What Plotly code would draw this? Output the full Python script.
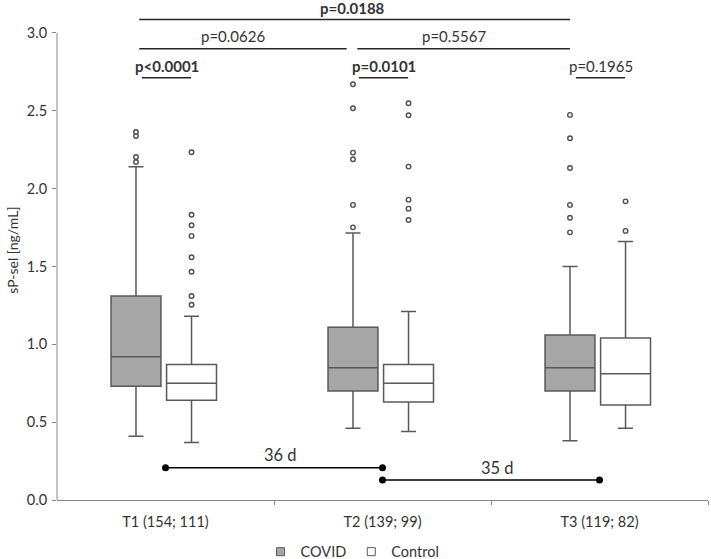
import plotly.graph_objects as go

# ---------------- data ----------------
categories = ["T1 (154; 111)", "T2 (139; 99)", "T3 (119; 82)"]

covid_q1 = [0.73, 0.70, 0.70]
covid_median = [0.92, 0.85, 0.85]
covid_q3 = [1.31, 1.11, 1.06]
covid_lower = [0.41, 0.46, 0.38]
covid_upper = [2.14, 1.715, 1.50]
covid_outliers = [
    [2.363, 2.338, 2.203, 2.171],
    [2.670, 2.516, 2.231, 2.188, 1.895, 1.751],
    [2.473, 2.323, 2.132, 1.895, 1.813, 1.719],
]

control_q1 = [0.64, 0.63, 0.61]
control_median = [0.75, 0.75, 0.81]
control_q3 = [0.87, 0.87, 1.04]
control_lower = [0.37, 0.44, 0.46]
control_upper = [1.18, 1.21, 1.66]
control_outliers = [
    [2.233, 1.832, 1.764, 1.696, 1.559, 1.466, 1.310, 1.254],
    [2.548, 2.471, 2.141, 1.929, 1.871, 1.798],
    [1.918, 1.728],
]

# within-timepoint p values (COVID vs control)
pair_p = ["<b>p<0.0001</b>", "<b>p=0.0101</b>", "p=0.1965"]
# between-timepoint p values (COVID)
p_t1_t2 = "p=0.0626"
p_t2_t3 = "p=0.5567"
p_t1_t3 = "<b>p=0.0188</b>"

# time between sampling points
interval_labels = ["36 d", "35 d"]

y_ticks = [0.0, 0.5, 1.0, 1.5, 2.0, 2.5, 3.0]

# ---------------- style ----------------
FONT = "Lato"
BOX_LINE = "#595959"
COVID_FILL = "#a6a6a6"
AXIS_COL = "#868686"
TXT = "#333333"
COVID_OFF = -0.136
CTRL_OFF = 0.12
BOX_W = 0.23
Y_MAX = 3.211
Y_AXIS_TOP = 3.0

xs = list(range(len(categories)))
covid_x = [i + COVID_OFF for i in xs]
ctrl_x = [i + CTRL_OFF for i in xs]

fig = go.Figure()

fig.add_trace(go.Box(
    x=covid_x, q1=covid_q1, median=covid_median, q3=covid_q3,
    lowerfence=covid_lower, upperfence=covid_upper,
    width=BOX_W, whiskerwidth=0.3, boxpoints=False,
    fillcolor=COVID_FILL, line=dict(color=BOX_LINE, width=1.5),
    showlegend=False, hoverinfo="skip",
))
fig.add_trace(go.Box(
    x=ctrl_x, q1=control_q1, median=control_median, q3=control_q3,
    lowerfence=control_lower, upperfence=control_upper,
    width=BOX_W, whiskerwidth=0.3, boxpoints=False,
    fillcolor="white", line=dict(color=BOX_LINE, width=1.5),
    showlegend=False, hoverinfo="skip",
))

# outliers
for cx, outs in zip(covid_x, covid_outliers):
    fig.add_trace(go.Scatter(
        x=[cx] * len(outs), y=outs, mode="markers",
        marker=dict(symbol="circle", size=4.5, color="white",
                    line=dict(color="#4d4d4d", width=1.4)),
        showlegend=False, hoverinfo="skip"))
for cx, outs in zip(ctrl_x, control_outliers):
    fig.add_trace(go.Scatter(
        x=[cx] * len(outs), y=outs, mode="markers",
        marker=dict(symbol="circle", size=4.5, color="white",
                    line=dict(color="#4d4d4d", width=1.4)),
        showlegend=False, hoverinfo="skip"))

# time interval bars
interval_y = [0.207, 0.128]
interval_text_y = [0.289, 0.204]
for k in range(2):
    fig.add_trace(go.Scatter(
        x=[xs[k], xs[k + 1]], y=[interval_y[k]] * 2, mode="lines+markers",
        line=dict(color="black", width=1.5),
        marker=dict(color="black", size=7),
        showlegend=False, hoverinfo="skip"))
    fig.add_annotation(x=(xs[k] + xs[k + 1]) / 2 + 0.03, y=interval_text_y[k],
                       text=interval_labels[k], showarrow=False,
                       font=dict(family=FONT, size=16.5, color=TXT))

# legend entries
fig.add_trace(go.Scatter(
    x=[None], y=[None], mode="markers", name="COVID",
    marker=dict(symbol="square", size=8, color=COVID_FILL,
                line=dict(color=BOX_LINE, width=1))))
fig.add_trace(go.Scatter(
    x=[None], y=[None], mode="markers", name="Control",
    marker=dict(symbol="square", size=8, color="white",
                line=dict(color=BOX_LINE, width=1))))

shapes = []
line_style = dict(color="#262626", width=1.5)
# pairwise brackets
for i in xs:
    shapes.append(dict(type="line", xref="x", yref="y",
                       x0=covid_x[i] + 0.027, x1=ctrl_x[i] - 0.002,
                       y0=2.712, y1=2.712, line=line_style))
    fig.add_annotation(x=i + 0.005, y=2.79, text=pair_p[i], showarrow=False,
                       font=dict(family=FONT, size=15, color=TXT))
# T1-T2 and T2-T3 brackets
shapes.append(dict(type="line", xref="x", yref="y",
                   x0=covid_x[0] + 0.015, x1=covid_x[1] - 0.029,
                   y0=2.898, y1=2.898, line=line_style))
shapes.append(dict(type="line", xref="x", yref="y",
                   x0=covid_x[1] + 0.02, x1=covid_x[2],
                   y0=2.898, y1=2.898, line=line_style))
fig.add_annotation(x=0.31, y=2.977, text=p_t1_t2, showarrow=False,
                   font=dict(family=FONT, size=15, color=TXT))
fig.add_annotation(x=1.33, y=2.977, text=p_t2_t3, showarrow=False,
                   font=dict(family=FONT, size=15, color=TXT))
# T1-T3 bracket
shapes.append(dict(type="line", xref="x", yref="y",
                   x0=covid_x[0] + 0.015, x1=covid_x[2],
                   y0=3.085, y1=3.085, line=line_style))
fig.add_annotation(x=covid_x[1], y=3.16, text=p_t1_t3, showarrow=False,
                   font=dict(family=FONT, size=15, color=TXT))

# y axis line (only up to 3.0)
shapes.append(dict(type="line", xref="paper", yref="paper",
                   x0=0, x1=0, y0=0, y1=Y_AXIS_TOP / Y_MAX,
                   line=dict(color=AXIS_COL, width=1)))

fig.update_layout(
    width=711, height=559,
    margin=dict(l=57, r=3, t=0, b=59),
    paper_bgcolor="white", plot_bgcolor="white",
    font=dict(family=FONT, size=14, color="#404040"),
    shapes=shapes,
    showlegend=True,
    legend=dict(orientation="h", xref="paper", x=0.454, xanchor="center",
                yref="container", y=0.013, yanchor="middle",
                font=dict(family=FONT, size=14.5, color=TXT),
                itemwidth=30, tracegroupgap=0),
)
fig.update_xaxes(
    range=[-0.5, 2.5], tickvals=xs, ticktext=categories,
    ticks="outside", ticklen=9, tickcolor="rgba(0,0,0,0)",
    showline=True, linecolor=AXIS_COL, linewidth=1,
    showgrid=False, zeroline=False, automargin=False,
    tickfont=dict(family=FONT, size=14.5, color=TXT),
    minor=dict(tickvals=[0.5, 1.5, 2.5], ticks="outside", ticklen=4,
               tickcolor=AXIS_COL, showgrid=False),
)
fig.update_yaxes(
    range=[0, Y_MAX], tickvals=y_ticks, tickformat=".1f",
    ticks="outside", ticklen=4, tickcolor=AXIS_COL, ticklabelstandoff=2,
    showline=False, showgrid=False, zeroline=False, automargin=False,
    tickfont=dict(family=FONT, size=14.5, color=TXT),
    title=dict(text="sP-sel [ng/mL]", font=dict(family=FONT, size=14, color=TXT),
               standoff=4),
)

fig.write_html(
    "out.html",
    config={"displayModeBar": False},
    post_script=(
        "document.documentElement.style.margin='0';"
        "document.documentElement.style.padding='0';"
        "document.documentElement.style.overflow='hidden';"
        "document.body.style.margin='0';"
        "document.body.style.padding='0';"
        "document.body.style.overflow='hidden';"
    ),
)
